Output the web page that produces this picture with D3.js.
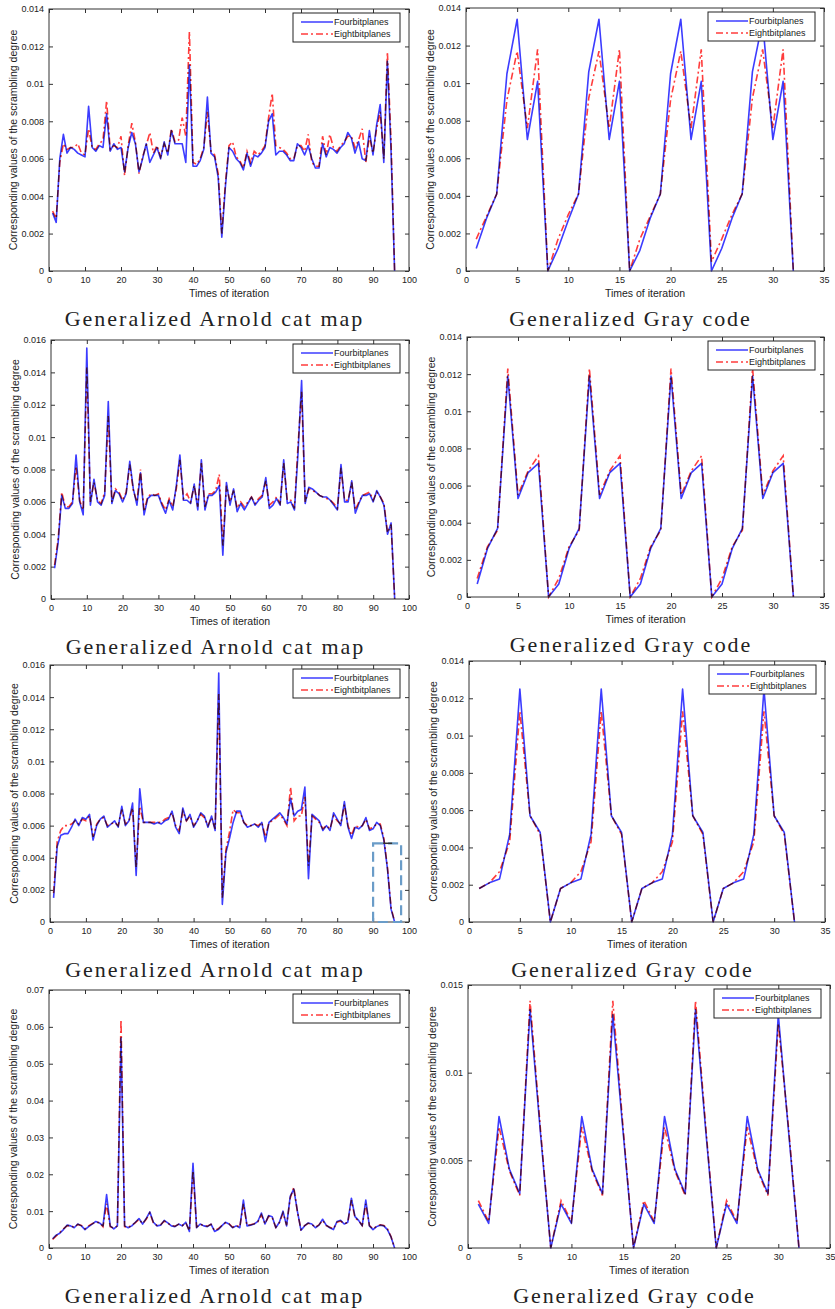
<!DOCTYPE html>
<html>
<head>
<meta charset="utf-8">
<script src="https://cdn.jsdelivr.net/npm/d3@7"></script>
<style>
  body { margin: 0; background: #fff; }
  text { font-family: "Liberation Sans", Arial, sans-serif; fill: #222; }
</style>
</head>
<body>
<div id="chart"></div>
<script>
// ---- data ----
const seriesNames = ["Fourbitplanes", "Eightbitplanes"];
const captionArnold = "Generalized Arnold cat map";
const captionGray = "Generalized Gray code";
const xLabel = "Times of iteration";
const yLabel = "Corresponding values of the scrambling degree";

const arnoldIter = d3.range(1, 97);   // iterations 1..96
const grayIter = d3.range(1, 33);     // iterations 1..32

const arnoldTicksX = [0, 10, 20, 30, 40, 50, 60, 70, 80, 90, 100];
const grayTicksX = [0, 5, 10, 15, 20, 25, 30, 35];
const ticks014 = [0, 0.002, 0.004, 0.006, 0.008, 0.01, 0.012, 0.014];
const ticks016 = [0, 0.002, 0.004, 0.006, 0.008, 0.01, 0.012, 0.014, 0.016];
const ticks07 = [0, 0.01, 0.02, 0.03, 0.04, 0.05, 0.06, 0.07];
const ticks015 = [0, 0.005, 0.01, 0.015];

// row 1
const arnold1Four = [
  .0031,.0026,.0060,.0073,.0063,.0066,.0065,.0063,.0062,.0061,
  .0088,.0066,.0064,.0067,.0066,.0084,.0064,.0068,.0065,.0066,
  .0053,.0066,.0074,.0068,.0053,.0060,.0068,.0058,.0062,.0066,
  .0060,.0069,.0062,.0075,.0068,.0068,.0068,.0058,.0110,.0056,
  .0056,.0059,.0065,.0093,.0063,.0061,.0050,.0018,.0045,.0066,
  .0064,.0060,.0058,.0054,.0063,.0056,.0062,.0061,.0063,.0066,
  .0080,.0084,.0062,.0064,.0064,.0062,.0059,.0059,.0068,.0066,
  .0062,.0067,.0060,.0055,.0055,.0068,.0061,.0066,.0065,.0063,
  .0066,.0068,.0074,.0071,.0063,.0069,.0060,.0059,.0075,.0062,
  .0078,.0089,.0058,.0112,.0065,.0000];
const arnold1Eight = [
  .0032,.0028,.0058,.0068,.0065,.0066,.0066,.0068,.0063,.0062,
  .0076,.0066,.0065,.0068,.0070,.0091,.0065,.0067,.0066,.0072,
  .0051,.0067,.0079,.0069,.0052,.0061,.0067,.0074,.0063,.0067,
  .0061,.0068,.0063,.0076,.0069,.0070,.0082,.0072,.0128,.0058,
  .0057,.0060,.0066,.0085,.0064,.0062,.0052,.0020,.0047,.0067,
  .0069,.0061,.0059,.0055,.0064,.0058,.0064,.0062,.0064,.0067,
  .0082,.0095,.0067,.0066,.0065,.0063,.0060,.0060,.0067,.0067,
  .0064,.0073,.0058,.0056,.0056,.0072,.0062,.0073,.0066,.0064,
  .0067,.0069,.0072,.0072,.0066,.0070,.0076,.0058,.0072,.0063,
  .0076,.0085,.0060,.0117,.0070,.0000];
const gray1Four = [
  .0012,.0028,.0041,.0105,.0134,.0070,.0101,.0000,
  .0012,.0027,.0041,.0106,.0134,.0070,.0101,.0000,
  .0011,.0028,.0041,.0105,.0134,.0070,.0101,.0000,
  .0012,.0028,.0041,.0106,.0133,.0070,.0101,.0000];
const gray1Eight = [
  .0017,.0029,.0041,.0091,.0117,.0076,.0118,.0000,
  .0017,.0030,.0041,.0092,.0117,.0076,.0118,.0000,
  .0017,.0029,.0041,.0091,.0117,.0076,.0118,.0005,
  .0017,.0030,.0041,.0092,.0118,.0076,.0118,.0000];

// row 2
const arnold2Four = [
  .0019,.0035,.0064,.0056,.0056,.0059,.0089,.0060,.0052,.0155,
  .0058,.0074,.0060,.0058,.0064,.0122,.0059,.0067,.0065,.0060,
  .0065,.0085,.0068,.0058,.0078,.0052,.0062,.0064,.0064,.0064,
  .0058,.0053,.0061,.0055,.0070,.0089,.0061,.0061,.0059,.0071,
  .0055,.0086,.0055,.0064,.0064,.0066,.0070,.0027,.0072,.0058,
  .0068,.0054,.0059,.0055,.0059,.0063,.0058,.0061,.0063,.0075,
  .0056,.0058,.0062,.0058,.0086,.0059,.0060,.0055,.0090,.0135,
  .0059,.0069,.0068,.0066,.0064,.0063,.0063,.0061,.0058,.0055,
  .0083,.0060,.0060,.0073,.0053,.0059,.0064,.0064,.0065,.0060,
  .0067,.0063,.0058,.0040,.0047,.0000];
const arnold2Eight = [
  .0021,.0037,.0066,.0057,.0057,.0060,.0082,.0061,.0055,.0143,
  .0060,.0072,.0061,.0059,.0066,.0113,.0060,.0068,.0066,.0061,
  .0066,.0083,.0067,.0060,.0080,.0054,.0063,.0065,.0064,.0065,
  .0059,.0055,.0062,.0057,.0068,.0086,.0062,.0065,.0060,.0070,
  .0057,.0084,.0057,.0065,.0065,.0067,.0077,.0033,.0070,.0060,
  .0067,.0056,.0060,.0057,.0060,.0063,.0059,.0062,.0064,.0073,
  .0058,.0060,.0063,.0059,.0084,.0061,.0061,.0056,.0095,.0128,
  .0060,.0068,.0067,.0066,.0064,.0063,.0062,.0061,.0059,.0056,
  .0081,.0061,.0061,.0072,.0055,.0060,.0064,.0065,.0066,.0061,
  .0066,.0063,.0059,.0041,.0046,.0000];
const gray2Four = [
  .0007,.0026,.0037,.0119,.0053,.0067,.0072,.0000,
  .0007,.0026,.0037,.0119,.0053,.0067,.0072,.0000,
  .0007,.0026,.0037,.0119,.0053,.0067,.0072,.0000,
  .0007,.0026,.0037,.0119,.0053,.0067,.0072,.0000];
const gray2Eight = [
  .0010,.0027,.0036,.0123,.0055,.0068,.0076,.0000,
  .0010,.0027,.0036,.0123,.0055,.0068,.0076,.0000,
  .0010,.0027,.0036,.0123,.0055,.0068,.0076,.0000,
  .0010,.0027,.0036,.0123,.0055,.0068,.0076,.0000];

// row 3
const arnold3Four = [
  .0015,.0047,.0054,.0055,.0055,.0059,.0064,.0060,.0065,.0064,
  .0067,.0051,.0060,.0064,.0066,.0059,.0061,.0063,.0059,.0072,
  .0060,.0063,.0074,.0029,.0083,.0062,.0062,.0062,.0061,.0062,
  .0061,.0063,.0064,.0069,.0059,.0055,.0071,.0063,.0067,.0059,
  .0063,.0068,.0066,.0059,.0066,.0057,.0155,.0011,.0043,.0052,
  .0062,.0069,.0069,.0062,.0059,.0060,.0061,.0059,.0062,.0050,
  .0062,.0064,.0066,.0068,.0065,.0061,.0077,.0066,.0069,.0070,
  .0084,.0027,.0067,.0065,.0063,.0057,.0060,.0057,.0068,.0064,
  .0060,.0075,.0059,.0052,.0059,.0058,.0060,.0065,.0057,.0058,
  .0062,.0060,.0051,.0033,.0008,.0000];
const arnold3Eight = [
  .0018,.0050,.0057,.0060,.0060,.0061,.0063,.0061,.0064,.0063,
  .0066,.0053,.0061,.0064,.0065,.0060,.0061,.0062,.0060,.0070,
  .0061,.0063,.0071,.0034,.0072,.0062,.0062,.0062,.0062,.0062,
  .0062,.0064,.0065,.0068,.0060,.0057,.0069,.0063,.0066,.0060,
  .0063,.0067,.0065,.0060,.0065,.0058,.0142,.0015,.0045,.0056,
  .0070,.0068,.0068,.0062,.0060,.0060,.0061,.0060,.0062,.0053,
  .0062,.0063,.0065,.0067,.0064,.0060,.0084,.0063,.0066,.0066,
  .0078,.0035,.0066,.0064,.0062,.0058,.0060,.0058,.0066,.0063,
  .0061,.0073,.0060,.0054,.0060,.0059,.0060,.0064,.0058,.0059,
  .0061,.0061,.0052,.0034,.0009,.0000];
const gray3Four = [
  .0018,.0021,.0023,.0047,.0125,.0057,.0048,.0000,
  .0018,.0021,.0023,.0047,.0125,.0057,.0048,.0000,
  .0018,.0021,.0023,.0047,.0125,.0057,.0048,.0000,
  .0018,.0021,.0023,.0047,.0125,.0057,.0048,.0000];
const gray3Eight = [
  .0018,.0021,.0027,.0043,.0113,.0057,.0047,.0000,
  .0018,.0021,.0027,.0043,.0113,.0057,.0047,.0000,
  .0018,.0021,.0027,.0043,.0113,.0057,.0047,.0000,
  .0018,.0021,.0027,.0043,.0113,.0057,.0047,.0000];

// row 4
const arnold4Four = [
  .0025,.0035,.0040,.0050,.0062,.0060,.0055,.0065,.0060,.0050,
  .0058,.0065,.0072,.0068,.0060,.0145,.0060,.0052,.0060,.0570,
  .0060,.0055,.0060,.0070,.0080,.0065,.0080,.0098,.0070,.0060,
  .0062,.0075,.0068,.0060,.0058,.0065,.0060,.0070,.0045,.0230,
  .0055,.0065,.0060,.0058,.0065,.0045,.0050,.0060,.0070,.0065,
  .0055,.0060,.0055,.0130,.0060,.0062,.0065,.0072,.0095,.0065,
  .0088,.0085,.0055,.0070,.0100,.0060,.0140,.0160,.0100,.0048,
  .0060,.0068,.0065,.0055,.0062,.0078,.0062,.0055,.0050,.0072,
  .0075,.0065,.0070,.0135,.0085,.0075,.0060,.0130,.0060,.0050,
  .0058,.0062,.0060,.0050,.0030,.0000];
const arnold4Eight = [
  .0023,.0033,.0042,.0052,.0060,.0061,.0056,.0064,.0061,.0052,
  .0060,.0066,.0070,.0069,.0058,.0120,.0058,.0054,.0060,.0620,
  .0058,.0056,.0062,.0069,.0078,.0066,.0078,.0095,.0068,.0061,
  .0063,.0073,.0067,.0061,.0059,.0064,.0061,.0068,.0047,.0210,
  .0057,.0064,.0061,.0059,.0064,.0047,.0052,.0061,.0068,.0066,
  .0056,.0061,.0057,.0120,.0061,.0063,.0066,.0071,.0090,.0066,
  .0086,.0083,.0056,.0069,.0095,.0062,.0135,.0165,.0098,.0050,
  .0061,.0067,.0064,.0056,.0063,.0075,.0061,.0056,.0052,.0070,
  .0073,.0066,.0069,.0130,.0082,.0074,.0061,.0120,.0061,.0052,
  .0059,.0063,.0061,.0052,.0031,.0000];
const gray4Four = [
  .0025,.0014,.0075,.0045,.0031,.0136,.0066,.0000,
  .0025,.0014,.0075,.0045,.0031,.0133,.0066,.0000,
  .0025,.0014,.0075,.0045,.0031,.0136,.0066,.0000,
  .0025,.0014,.0075,.0045,.0031,.0133,.0066,.0000];
const gray4Eight = [
  .0027,.0015,.0069,.0044,.0030,.0141,.0068,.0000,
  .0027,.0015,.0069,.0044,.0030,.0141,.0068,.0000,
  .0027,.0015,.0069,.0044,.0030,.0141,.0068,.0000,
  .0027,.0015,.0069,.0044,.0030,.0128,.0068,.0000];

// dashed highlight box in row 3, left (data units)
const highlightBox = {x0: 90, x1: 97.8, y0: 0, y1: 0.0049, markX0: 92.8, markX1: 95.3};

// ---- layout ----
const W = 835, H = 1309;
const blue = "#3c3cff", red = "#ff3c3c";

const panels = [
  {box: [49, 9, 409, 271],    iter: arnoldIter, xMax: 100, xTicks: arnoldTicksX, yMax: 0.014, yTicks: ticks014, four: arnold1Four, eight: arnold1Eight, caption: captionArnold},
  {box: [466, 8, 824, 271],   iter: grayIter, xMax: 35, xTicks: grayTicksX, yMax: 0.014, yTicks: ticks014, four: gray1Four, eight: gray1Eight, caption: captionGray},
  {box: [51, 340, 409, 599],  iter: arnoldIter, xMax: 100, xTicks: arnoldTicksX, yMax: 0.016, yTicks: ticks016, four: arnold2Four, eight: arnold2Eight, caption: captionArnold},
  {box: [467, 337, 824, 597], iter: grayIter, xMax: 35, xTicks: grayTicksX, yMax: 0.014, yTicks: ticks014, four: gray2Four, eight: gray2Eight, caption: captionGray},
  {box: [50, 665, 409, 922],  iter: arnoldIter, xMax: 100, xTicks: arnoldTicksX, yMax: 0.016, yTicks: ticks016, four: arnold3Four, eight: arnold3Eight, caption: captionArnold, highlight: highlightBox},
  {box: [469, 661, 825, 922], iter: grayIter, xMax: 35, xTicks: grayTicksX, yMax: 0.014, yTicks: ticks014, four: gray3Four, eight: gray3Eight, caption: captionGray},
  {box: [49, 990, 409, 1248], iter: arnoldIter, xMax: 100, xTicks: arnoldTicksX, yMax: 0.07, yTicks: ticks07, four: arnold4Four, eight: arnold4Eight, caption: captionArnold},
  {box: [468, 985, 830, 1248], iter: grayIter, xMax: 35, xTicks: grayTicksX, yMax: 0.015, yTicks: ticks015, four: gray4Four, eight: gray4Eight, caption: captionGray}
];

const svg = d3.select("#chart")
  .append("svg")
    .attr("width", W)
    .attr("height", H);

svg.append("rect").attr("width", W).attr("height", H).attr("fill", "#fff");

const fmt = d => d === 0 ? "0" : String(+d.toFixed(4));

panels.forEach((p, k) => {
  const [L, T, R, B] = p.box;
  const x = d3.scaleLinear().domain([0, p.xMax]).range([L, R]);
  const y = d3.scaleLinear().domain([0, p.yMax]).range([B, T]);
  const g = svg.append("g");

  // axes: MATLAB style ticks pointing inwards on all four sides
  g.append("g").attr("transform", `translate(0,${B})`)
    .call(d3.axisBottom(x).tickValues(p.xTicks).tickFormat(fmt).tickSize(-4).tickPadding(6));
  g.append("g").attr("transform", `translate(${L},0)`)
    .call(d3.axisLeft(y).tickValues(p.yTicks).tickFormat(fmt).tickSize(-4).tickPadding(5));
  g.append("g").attr("transform", `translate(0,${T})`)
    .call(d3.axisTop(x).tickValues(p.xTicks).tickFormat("").tickSize(-4));
  g.append("g").attr("transform", `translate(${R},0)`)
    .call(d3.axisRight(y).tickValues(p.yTicks).tickFormat("").tickSize(-4));
  g.selectAll(".domain").remove();
  g.selectAll(".tick line").attr("stroke", "#333");
  g.selectAll(".tick text").attr("font-size", 9).attr("fill", "#333")
    .attr("font-family", "Liberation Sans, Arial, sans-serif");

  // lines
  const clipId = "clip" + k;
  g.append("clipPath").attr("id", clipId)
    .append("rect").attr("x", L).attr("y", T - 2).attr("width", R - L).attr("height", B - T + 4);

  const line = d3.line().x((d, i) => x(p.iter[i])).y(d => y(d));
  const lines = g.append("g").attr("clip-path", `url(#${clipId})`).style("isolation", "isolate");
  lines.append("path").datum(p.four)
    .attr("d", line).attr("fill", "none")
    .attr("stroke", blue).attr("stroke-width", 1.6).attr("stroke-linejoin", "round");
  lines.append("path").datum(p.eight)
    .attr("d", line).attr("fill", "none")
    .attr("stroke", red).attr("stroke-width", 1.6)
    .attr("stroke-dasharray", "7,3,2,3")
    .style("mix-blend-mode", "multiply");

  // box
  g.append("rect")
    .attr("x", L).attr("y", T).attr("width", R - L).attr("height", B - T)
    .attr("fill", "none").attr("stroke", "#333").attr("stroke-width", 1);

  // highlight
  if (p.highlight) {
    const h = p.highlight;
    g.append("rect")
      .attr("x", x(h.x0)).attr("y", y(h.y1))
      .attr("width", x(h.x1) - x(h.x0)).attr("height", y(h.y0) - y(h.y1))
      .attr("fill", "none").attr("stroke", "#6a9cc8").attr("stroke-width", 2.2)
      .attr("stroke-dasharray", "10,5");
    g.append("line")
      .attr("x1", x(h.markX0)).attr("x2", x(h.markX1)).attr("y1", y(h.y1)).attr("y2", y(h.y1))
      .attr("stroke", "#333").attr("stroke-width", 1.5);
  }

  // legend
  const lw = 107, lh = 29;
  const lx = R - 9 - lw, ly = T + 4;
  const leg = g.append("g");
  leg.append("rect").attr("x", lx).attr("y", ly).attr("width", lw).attr("height", lh)
    .attr("fill", "#fff").attr("stroke", "#222").attr("stroke-width", 1);
  seriesNames.forEach((name, i) => {
    const yy = ly + 9 + i * 12;
    leg.append("line").attr("x1", lx + 8).attr("x2", lx + 40).attr("y1", yy).attr("y2", yy)
      .attr("stroke", i === 0 ? blue : red).attr("stroke-width", 1.5)
      .attr("stroke-dasharray", i === 0 ? null : "7,3,2,3");
    leg.append("text").attr("x", lx + 41).attr("y", yy).attr("dy", "0.35em")
      .attr("font-size", 9).text(name);
  });

  // axis labels
  g.append("text")
    .attr("x", (L + R) / 2).attr("y", B + 26)
    .attr("text-anchor", "middle").attr("font-size", 10.5).attr("fill", "#333")
    .text(xLabel);
  g.append("text")
    .attr("transform", `translate(${L - 36},${(T + B) / 2}) rotate(-90)`)
    .attr("text-anchor", "middle").attr("dy", "0.35em").attr("font-size", 10.5).attr("fill", "#333")
    .text(yLabel);

  // caption: serif, spread to the width of the original's monospaced line
  g.append("text")
    .attr("x", (L + R) / 2 - 15.5).attr("y", B + 55)
    .attr("text-anchor", "middle")
    .style("font-family", "'Liberation Serif', 'DejaVu Serif', serif")
    .attr("font-size", 22).attr("fill", "#444")
    .attr("textLength", p.caption.length * 11.45).attr("lengthAdjust", "spacing")
    .text(p.caption);
});
</script>
</body>
</html>
